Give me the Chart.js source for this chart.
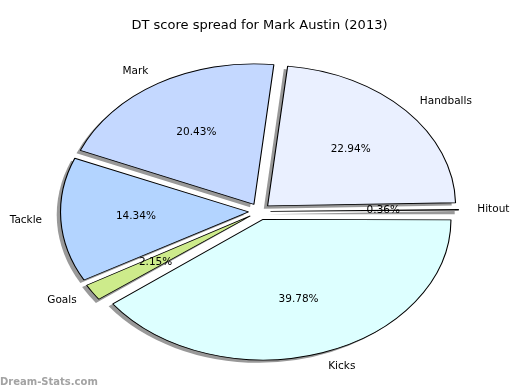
<!DOCTYPE html>
<html lang="en">
<head>
  <meta charset="UTF-8" />
  <title>DT score spread for Mark Austin (2013)</title>
  <script src="https://cdn.jsdelivr.net/npm/chart.js@4.4.1/dist/chart.umd.min.js"></script>
  <style>
    html, body { margin: 0; padding: 0; background: #fff; }
    canvas { display: block; }
  </style>
</head>
<body>
  <canvas id="pie" width="520" height="390"></canvas>

  <script>
    // wedges in clockwise order starting at 3 o'clock
    const labels = ['Kicks', 'Goals', 'Tackle', 'Mark', 'Handballs', 'Hitout'];
    const shares = [39.78, 2.15, 14.34, 20.43, 22.94, 0.36];
    const colors = ['#ddffff', '#cdeb8b', '#b3d4ff', '#c4d8ff', '#eaf0ff', '#ffffff'];

    const RADIUS = 188;     // horizontal radius in px
    const SQUASH = 0.748;   // pie is drawn as an ellipse
    const EXPLODE = 11;     // px each wedge is pushed out
    const SHADOW = 3.8;

    const ellipse = {
      id: 'ellipse',
      beforeDatasetsDraw(chart) {
        const ctx = chart.ctx;
        const meta = chart.getDatasetMeta(0);
        const cx = meta.data[0].x, cy = meta.data[0].y;
        ctx.save();
        ctx.translate(cx, cy);
        ctx.scale(1, SQUASH);
        ctx.translate(-cx, -cy);

        // grey shadows under all wedges
        ctx.fillStyle = '#999';
        meta.data.forEach(arc => {
          const mid = (arc.startAngle + arc.endAngle) / 2;
          const x = cx + Math.cos(mid) * EXPLODE - SHADOW;
          const y = cy + Math.sin(mid) * EXPLODE + SHADOW;
          ctx.beginPath();
          ctx.moveTo(x, y);
          ctx.arc(x, y, RADIUS, arc.startAngle, arc.endAngle);
          ctx.closePath();
          ctx.fill();
          // chart.js grows thin offset wedges, undo it
          const fix = 1 - Math.sin(Math.min(Math.PI, arc.circumference));
          arc.outerRadius = RADIUS - EXPLODE * fix;
        });
      },
      afterDatasetsDraw(chart) {
        const ctx = chart.ctx;
        ctx.restore();
        const meta = chart.getDatasetMeta(0);
        const cx = meta.data[0].x, cy = meta.data[0].y;

        ctx.save();
        ctx.fillStyle = '#000';
        ctx.textBaseline = 'middle';
        ctx.font = '10.5px "DejaVu Sans"';
        meta.data.forEach((arc, i) => {
          const mid = (arc.startAngle + arc.endAngle) / 2;
          const cos = Math.cos(mid), sin = Math.sin(mid);
          const ex = cx + cos * EXPLODE, ey = cy + sin * EXPLODE;

          const lx = ex + 1.1 * RADIUS * cos;
          const ly = ey + 1.1 * RADIUS * sin;
          ctx.textAlign = lx > cx ? 'left' : 'right';
          ctx.fillText(labels[i], lx, cy + (ly - cy) * SQUASH);

          const px = ex + 0.6 * RADIUS * cos;
          const py = ey + 0.6 * RADIUS * sin;
          ctx.textAlign = 'center';
          ctx.fillText(shares[i].toFixed(2) + '%', px, cy + (py - cy) * SQUASH);
        });

        // watermark
        ctx.fillStyle = '#a3a3a3';
        ctx.textAlign = 'left';
        ctx.textBaseline = 'alphabetic';
        ctx.font = 'bold 10px "DejaVu Sans"';
        ctx.fillText('Dream-Stats.com', 0, 385);
        ctx.restore();
      }
    };

    new Chart(document.getElementById('pie'), {
      type: 'pie',
      data: {
        labels,
        datasets: [{
          data: shares,
          backgroundColor: colors,
          borderColor: '#000',
          borderWidth: 1.1,
          offset: EXPLODE * 4,
          radius: RADIUS,
          clip: 600
        }]
      },
      options: {
        responsive: false,
        devicePixelRatio: 1,
        animation: false,
        rotation: 90,
        layout: { padding: { left: 0, right: 1, top: 0, bottom: 0.6 } },
        plugins: {
          legend: { display: false },
          tooltip: { enabled: false },
          title: {
            display: true,
            text: 'DT score spread for Mark Austin (2013)',
            color: '#000',
            font: { family: 'DejaVu Sans', size: 13, weight: 'normal', lineHeight: 1.2 },
            padding: { top: 18, bottom: 0 }
          }
        }
      },
      plugins: [ellipse]
    });
  </script>
</body>
</html>
